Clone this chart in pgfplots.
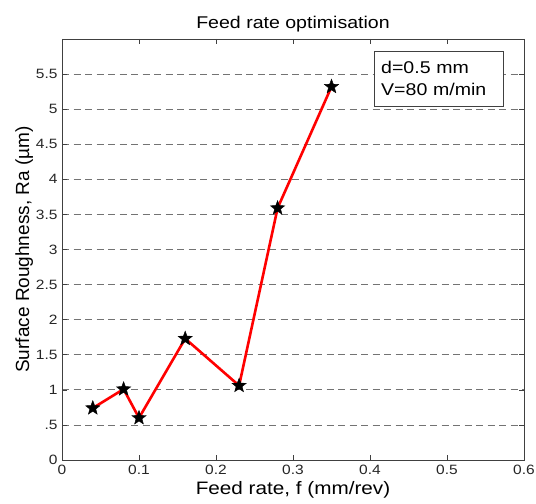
\documentclass[border=0pt]{standalone}
\usepackage{fontspec}
% the reference is a little stretched sideways, so the type is too
\setmainfont{Liberation Sans}[FakeStretch=1.15]
\newfontfamily\plainsans{Liberation Sans}
\usepackage{pgfplots}
\pgfplotsset{compat=1.18}

% filled five-pointed star, MATLAB 'p' style
\pgfdeclareplotmark{pentastar}{%
  \pgfpathmoveto{\pgfpointpolar{90}{\pgfplotmarksize}}%
  \pgfpathlineto{\pgfpointpolar{126}{0.42\pgfplotmarksize}}%
  \pgfpathlineto{\pgfpointpolar{162}{\pgfplotmarksize}}%
  \pgfpathlineto{\pgfpointpolar{198}{0.42\pgfplotmarksize}}%
  \pgfpathlineto{\pgfpointpolar{234}{\pgfplotmarksize}}%
  \pgfpathlineto{\pgfpointpolar{270}{0.42\pgfplotmarksize}}%
  \pgfpathlineto{\pgfpointpolar{306}{\pgfplotmarksize}}%
  \pgfpathlineto{\pgfpointpolar{342}{0.42\pgfplotmarksize}}%
  \pgfpathlineto{\pgfpointpolar{18}{\pgfplotmarksize}}%
  \pgfpathlineto{\pgfpointpolar{54}{0.42\pgfplotmarksize}}%
  \pgfpathclose
  \pgfusepathqfillstroke}

\begin{document}
\begin{tikzpicture}
\begin{axis}[
  scale only axis,
  width=462pt, height=421pt,
  xmin=0, xmax=0.6, ymin=0, ymax=6,
  xtick={0,0.1,0.2,0.3,0.4,0.5,0.6},
  xticklabels={0,0.1,0.2,0.3,0.4,0.5,0.6},
  ytick={0,0.5,1,1.5,2,2.5,3,3.5,4,4.5,5,5.5},
  yticklabels={0,.5,1,1.5,2,2.5,3,3.5,4,4.5,5,5.5},
  tick align=inside,
  major tick length=5pt,
  tick style={black!75, line width=0.6pt},
  axis line style={black!75, line width=0.7pt},
  ymajorgrids,
  major grid style={black!55, line width=0.7pt, dash pattern=on 7pt off 4.5pt},
  tick label style={font=\fontsize{13.5}{15}\selectfont, text=black!85},
  xticklabel style={inner sep=0.5pt, yshift=-4pt},
  yticklabel style={xshift=-1pt},
  title={Feed rate optimisation},
  title style={font=\fontsize{17}{19}\selectfont, yshift=-3pt},
  xlabel={Feed rate, f (mm/rev)},
  ylabel={Surface Roughness, Ra (µm)},
  xlabel style={font=\fontsize{18}{20}\selectfont, inner sep=0.5pt,
    at={(axis description cs:0.5,0)}, anchor=north, yshift=-21pt},
  ylabel style={font=\plainsans\fontsize{19}{21}\selectfont, yshift=-4pt},
]
\addplot[red, line width=2.6pt, mark=pentastar, mark size=7.5pt,
  mark options={fill=black, draw=black, line width=0.4pt}] coordinates {
  (0.04,0.74)
  (0.08,1.01)
  (0.10,0.60)
  (0.16,1.73)
  (0.23,1.06)
  (0.28,3.59)
  (0.35,5.32)
};
\node[draw=black!75, line width=0.7pt, fill=white, anchor=north west, align=left,
  text width=115pt, inner xsep=7pt, inner ysep=0pt, minimum height=55pt,
  font=\fontsize{17}{22}\selectfont]
  at (axis cs:0.405,5.83) {d=0.5 mm\\V=80 m/min};
\end{axis}
\pgfresetboundingbox
\path[use as bounding box] ([shift={(-62pt,-43pt)}]current axis.south west)
  rectangle ([shift={(12pt,39pt)}]current axis.north east);
\end{tikzpicture}
\end{document}
